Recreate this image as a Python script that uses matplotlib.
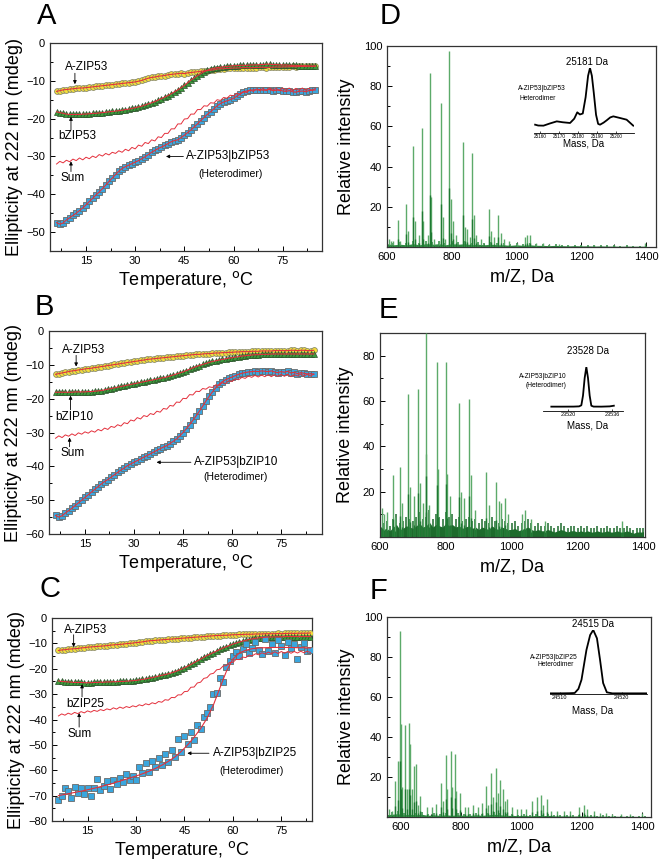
import numpy as np
import matplotlib
matplotlib.use("Agg")
import matplotlib.pyplot as plt
from matplotlib.ticker import MultipleLocator

plt.rcParams['font.family'] = ['Liberation Sans', 'DejaVu Sans']

W, H = 660, 863

# ---------------- CD melting data (mdeg) ----------------
temps = np.arange(6, 86)      # A, B
temps_c = np.arange(6, 85)    # C
fit_t_c = np.arange(6, 86, 2)

azip_a = [-12.8, -12.6, -12.4, -12.3, -12.2, -12.1, -12.0, -11.9, -11.9, -11.8,
          -11.7, -11.6, -11.5, -11.4, -11.3, -11.2, -11.1, -11.0, -10.9, -10.8,
          -10.7, -10.6, -10.5, -10.4, -10.3, -10.1, -9.9, -9.6, -9.3, -9.1,
          -9.0, -8.8, -8.7, -8.6, -8.4, -8.3, -8.2, -8.1, -8.0, -8.1,
          -7.9, -7.8, -7.7, -7.6, -7.5, -7.4, -7.3, -7.2, -7.1, -6.9,
          -6.8, -6.8, -6.7, -6.7, -6.6, -6.6, -6.6, -6.5, -6.5, -6.6,
          -6.5, -6.5, -6.4, -6.4, -6.5, -6.4, -6.4, -6.3, -6.4, -6.3,
          -6.3, -6.3, -6.2, -6.3, -6.2, -6.2, -6.2, -6.1, -6.2, -6.1]
bzip_a = [-18.2, -18.4, -18.6, -18.8, -18.9, -18.9, -18.9, -18.9, -18.8, -18.8,
          -18.7, -18.6, -18.6, -18.5, -18.4, -18.3, -18.2, -18.1, -18.0, -17.9,
          -17.8, -17.6, -17.5, -17.3, -17.1, -16.9, -16.7, -16.4, -16.1, -15.8,
          -15.5, -15.1, -14.7, -14.3, -13.9, -13.4, -12.9, -12.4, -11.8, -11.2,
          -10.5, -9.8, -9.2, -8.6, -8.1, -7.6, -7.2, -6.9, -6.7, -6.5,
          -6.4, -6.3, -6.2, -6.1, -6.0, -6.0, -5.9, -5.9, -5.9, -5.8,
          -5.8, -5.8, -5.7, -5.7, -5.6, -5.6, -5.7, -5.7, -5.8, -5.8,
          -5.8, -5.9, -5.9, -5.9, -6.0, -6.0, -6.0, -6.1, -6.1, -6.1]
sum_a = [-32.0, -31.3, -31.7, -31.0, -31.4, -30.7, -31.1, -30.4, -30.9, -30.2,
         -30.6, -29.9, -30.3, -29.5, -29.9, -29.2, -29.6, -28.9, -29.2, -28.5,
         -28.9, -28.1, -28.5, -27.6, -28.0, -27.0, -27.3, -26.3, -26.6, -25.6,
         -25.9, -24.8, -25.0, -23.9, -23.9, -22.7, -22.7, -21.4, -21.4, -20.1,
         -20.0, -18.8, -18.8, -17.6, -17.6, -16.6, -16.7, -15.8, -15.9, -15.0,
         -15.2, -14.4, -14.6, -13.8, -14.0, -13.3, -13.5, -12.8, -13.1, -12.4,
         -12.8, -12.1, -12.6, -12.0, -12.6, -11.9, -12.5, -12.0, -12.6, -11.9,
         -12.5, -11.9, -12.6, -12.0, -12.5, -11.9, -12.5, -12.0, -12.5, -12.0]
het_a = [-47.5, -47.9, -47.6, -46.8, -46.2, -45.6, -45.0, -44.3, -43.6, -42.8,
         -41.9, -41.1, -40.2, -39.4, -38.5, -37.6, -36.6, -35.7, -34.8, -33.9,
         -33.2, -32.7, -32.3, -31.9, -31.5, -31.1, -30.6, -30.1, -29.5, -28.9,
         -28.4, -27.9, -27.5, -27.1, -26.6, -26.1, -25.8, -25.6, -25.0, -24.4,
         -23.7, -23.0, -22.2, -21.4, -20.5, -19.7, -18.9, -18.2, -17.4, -16.6,
         -16.0, -15.6, -15.3, -15.0, -14.6, -14.1, -13.5, -13.0, -12.7, -12.5,
         -12.4, -12.4, -12.3, -12.5, -12.4, -12.3, -12.6, -12.5, -12.4, -12.7,
         -12.8, -12.6, -12.9, -13.0, -12.8, -12.7, -12.9, -12.6, -12.5, -12.4]

azip_b = [-12.8, -12.6, -12.4, -12.2, -12.0, -11.8, -11.7, -11.5, -11.4, -11.2,
          -11.1, -11.0, -10.8, -10.7, -10.5, -10.4, -10.2, -10.1, -9.9, -9.8,
          -9.6, -9.5, -9.3, -9.2, -9.0, -8.9, -8.7, -8.6, -8.4, -8.3,
          -8.2, -8.1, -8.0, -7.9, -7.8, -7.7, -7.6, -7.5, -7.4, -7.3,
          -7.2, -7.1, -7.0, -6.9, -6.9, -6.8, -6.7, -6.7, -6.6, -6.5,
          -6.5, -6.4, -6.4, -6.3, -6.3, -6.2, -6.2, -6.1, -6.1, -6.1,
          -6.0, -6.0, -6.0, -5.9, -5.9, -5.9, -5.9, -5.8, -5.8, -5.8,
          -5.8, -5.8, -5.7, -5.7, -5.8, -5.7, -5.7, -5.8, -5.8, -5.7]
bzip_b = [-18.1, -18.1, -18.1, -18.1, -18.1, -18.1, -18.0, -18.0, -18.0, -18.0,
          -17.9, -17.9, -17.8, -17.7, -17.6, -17.4, -17.2, -17.0, -16.8, -16.6,
          -16.4, -16.2, -16.0, -15.8, -15.6, -15.4, -15.2, -15.0, -14.8, -14.6,
          -14.4, -14.2, -14.0, -13.8, -13.6, -13.3, -13.0, -12.7, -12.4, -12.1,
          -11.7, -11.3, -10.9, -10.5, -10.2, -9.9, -9.6, -9.3, -9.0, -8.8,
          -8.6, -8.4, -8.2, -8.0, -7.9, -7.7, -7.6, -7.4, -7.3, -7.2,
          -7.1, -7.0, -7.0, -6.9, -6.9, -6.9, -6.8, -6.8, -6.8, -6.8,
          -6.8, -6.8, -6.8, -6.8, -6.8, -6.8, -6.8, -6.8, -6.8, -6.8]
sum_b = [-31.7, -31.0, -31.5, -30.7, -31.1, -30.4, -30.9, -30.1, -30.5, -29.8,
         -30.2, -29.5, -29.9, -29.1, -29.5, -28.7, -29.1, -28.2, -28.5, -27.7,
         -28.1, -27.1, -27.4, -26.3, -26.6, -25.6, -26.0, -25.0, -25.3, -24.4,
         -24.7, -23.7, -24.0, -22.9, -23.1, -22.0, -22.2, -21.0, -21.1, -19.9,
         -20.0, -18.8, -18.9, -17.8, -17.9, -17.0, -17.2, -16.5, -16.7, -15.9,
         -16.1, -15.3, -15.5, -14.7, -14.9, -14.1, -14.4, -13.7, -14.0, -13.3,
         -13.7, -13.1, -13.6, -13.0, -13.5, -12.9, -13.5, -12.9, -13.4, -12.8,
         -13.4, -12.8, -13.5, -12.9, -13.3, -12.7, -13.3, -12.8, -13.3, -12.7]
het_b = [-54.5, -55.0, -54.6, -53.8, -53.1, -52.4, -51.6, -50.8, -50.0, -49.2,
         -48.4, -47.6, -46.8, -46.0, -45.2, -44.5, -43.9, -43.2, -42.5, -41.8,
         -41.1, -40.5, -39.8, -39.3, -38.8, -38.3, -37.8, -37.3, -36.8, -36.3,
         -35.8, -35.3, -34.8, -34.3, -33.9, -33.3, -32.6, -31.9, -31.0, -30.0,
         -28.9, -27.7, -26.4, -25.1, -23.7, -22.2, -20.7, -19.3, -18.0, -16.8,
         -15.8, -15.0, -14.4, -14.0, -13.6, -13.2, -12.8, -12.5, -12.3, -12.1,
         -12.0, -11.9, -12.0, -11.8, -11.9, -12.0, -11.8, -12.1, -12.3, -12.0,
         -12.2, -11.9, -12.4, -12.2, -12.6, -12.3, -12.5, -12.7, -12.6, -12.8]

azip_c = [-12.8, -12.6, -12.5, -12.3, -12.2, -12.1, -12.0, -11.8, -11.7, -11.5,
          -11.4, -11.3, -11.2, -11.1, -11.0, -10.9, -10.7, -10.6, -10.5, -10.4,
          -10.3, -10.1, -10.0, -9.9, -9.7, -9.6, -9.4, -9.2, -9.0, -8.9,
          -8.8, -8.7, -8.6, -8.5, -8.4, -8.3, -8.2, -8.1, -8.0, -7.9,
          -7.8, -7.7, -7.6, -7.5, -7.4, -7.3, -7.2, -7.1, -7.0, -6.9,
          -6.9, -6.8, -6.8, -6.7, -6.6, -6.6, -6.5, -6.5, -6.4, -6.4,
          -6.4, -6.3, -6.3, -6.3, -6.2, -6.2, -6.2, -6.2, -6.1, -6.2,
          -6.1, -6.1, -6.0, -6.1, -6.0, -6.0, -6.0, -6.0, -5.9]
bzip_c = [-24.8, -25.0, -25.1, -25.2, -25.3, -25.4, -25.4, -25.4, -25.5, -25.5,
          -25.5, -25.4, -25.4, -25.3, -25.3, -25.2, -25.2, -25.1, -25.1, -25.0,
          -25.0, -24.9, -24.8, -24.7, -24.6, -24.4, -24.2, -24.0, -23.7, -23.5,
          -23.2, -22.9, -22.6, -22.3, -22.0, -21.6, -21.2, -20.7, -20.2, -19.6,
          -19.0, -18.3, -17.6, -16.9, -16.2, -15.5, -14.8, -14.2, -13.6, -13.0,
          -12.4, -11.8, -11.3, -10.8, -10.3, -9.9, -9.5, -9.1, -8.8, -8.5,
          -8.2, -8.0, -7.8, -7.7, -7.6, -7.5, -7.5, -7.4, -7.4, -7.4,
          -7.3, -7.3, -7.3, -7.3, -7.3, -7.3, -7.3, -7.3, -7.3]
sum_c = [-38.6, -37.8, -38.3, -37.5, -38.0, -37.2, -37.7, -36.9, -37.4, -36.6,
         -37.1, -36.4, -36.8, -36.1, -36.5, -35.8, -36.2, -35.4, -35.9, -35.1,
         -35.6, -34.9, -35.3, -34.6, -35.0, -34.2, -34.6, -33.8, -34.2, -33.4,
         -33.8, -32.9, -33.2, -32.2, -32.4, -31.3, -31.4, -30.3, -30.3, -29.0,
         -28.9, -27.3, -27.2, -25.6, -25.3, -23.8, -23.5, -22.1, -21.8, -20.4,
         -20.2, -18.9, -18.8, -17.5, -17.5, -16.3, -16.4, -15.4, -15.6, -14.6,
         -14.9, -14.1, -14.5, -13.7, -14.2, -13.4, -14.1, -13.3, -14.0, -13.2,
         -13.9, -13.2, -13.9, -13.2, -13.8, -13.1, -13.7, -13.1, -13.6]
het_c = [-71.8, -70.1, -66.8, -68.1, -71.0, -66.5, -68.8, -66.8, -69.5, -67.0,
         -70.2, -66.8, -63.4, -67.9, -66.1, -64.2, -67.3, -63.8, -65.4, -62.9,
         -64.8, -61.5, -63.9, -62.1, -64.0, -58.6, -61.2, -57.0, -60.8, -56.3,
         -58.9, -55.1, -57.8, -53.4, -56.6, -51.9, -54.9, -47.6, -52.8, -46.5,
         -49.8, -45.1, -48.2, -42.0, -43.7, -38.9, -37.3, -34.9, -30.0, -29.4,
         -23.8, -25.1, -19.2, -17.0, -15.1, -13.4, -14.9, -12.2, -10.4, -13.8,
         -11.9, -9.6, -12.7, -14.1, -8.2, -12.9, -10.3, -13.6, -8.7, -11.2,
         -14.6, -9.3, -12.0, -10.1, -16.0, -11.4, -9.9, -13.2, -12.6]
fit_c = [-70.0, -69.5, -69.0, -68.5, -68.0, -67.4, -66.8, -66.1, -65.5, -64.7,
         -63.9, -63.1, -62.3, -61.4, -60.4, -59.3, -58.0, -56.5, -54.8, -52.6,
         -50.0, -47.0, -43.6, -39.5, -34.2, -27.5, -21.0, -16.2, -13.8, -12.7,
         -12.1, -11.8, -11.7, -11.6, -11.6, -11.6, -11.6, -11.7, -11.7, -11.8]

# ---------------- mass spectra ----------------
mz_d = [605, 612, 620, 635, 640, 659, 664, 680, 685, 700, 707, 712, 725, 732, 737,
        745, 760, 767, 772, 780, 791, 796, 805, 812, 833, 840, 846, 855, 861, 869,
        875, 890, 914, 922, 930, 944, 952, 962, 975, 1000, 1025, 1033, 1040, 1060,
        1080, 1100, 1130, 1160, 1200, 1240, 1300, 1395]
int_d = [4, 3, 3, 13.4, 3, 21.4, 8, 50, 13, 6, 59, 13, 6, 86.7, 25,
         4, 3, 71.8, 15, 4, 97.5, 24, 13, 6, 52.4, 10, 9, 5, 47, 15.7,
         6, 4, 19, 8, 5, 16, 7, 4, 3, 2, 5, 6, 6, 2,
         2, 1.5, 1.5, 1, 1, 1, 1, 2]
base_mz_d = np.arange(600, 1401, 20)
base_d = [3, 2, 2.5, 2, 3, 2, 3, 2.5, 3, 2,
          3, 2.5, 3, 2, 2.5, 2, 2.5, 2, 2, 1.5,
          2, 1.5, 2, 1.5, 1.5, 1.2, 1.5, 1.2, 1, 1.2,
          1, 1, 0.8, 1, 0.8, 0.8, 0.7, 0.8, 0.7, 0.7, 0.7]

mz_e = [605, 612, 620, 639, 646, 662, 668, 686, 692, 704, 714, 720, 730, 739, 741,
        750, 772, 776, 799, 803, 812, 841, 847, 855, 869, 877, 890, 922, 930, 953,
        960, 968, 980, 990, 1030, 1040, 1060, 1100, 1335]
int_e = [13, 10, 11, 27.2, 9, 30.8, 15, 62.9, 22, 18, 65.3, 24, 15, 90, 36.8,
         14, 77, 30, 77.4, 28, 18, 59.1, 20, 17, 60.7, 27.5, 12, 28.6, 14, 24.3,
         16, 15, 17, 10, 10, 12, 8, 7, 7]
base_mz_e = np.arange(600, 1401, 10)
base_e = [9, 6, 7, 5, 8, 10, 6, 7, 9, 8,
          7, 9, 11, 8, 9, 12, 8, 10, 9, 8,
          11, 9, 10, 8, 9, 7, 8, 9, 7, 8,
          6, 8, 7, 6, 9, 7, 6, 8, 7, 6,
          6, 7, 5, 6, 7, 8, 6, 5, 6, 5,
          5, 6, 5, 4, 5, 6, 5, 4, 5, 5,
          4, 5, 4, 5, 4, 4, 5, 4, 4, 5,
          4, 4, 5, 4, 4, 5, 4, 3, 4, 4, 4]

mz_f = [560, 570, 582, 593, 599, 601, 606, 614, 620, 628, 632, 638, 643, 651, 658,
        666, 687, 703, 717, 734, 740, 749, 753, 766, 770, 781, 785, 797, 812, 825,
        840, 855, 869, 884, 890, 899, 905, 916, 922, 931, 939, 946, 954, 970, 985,
        1000, 1015, 1035, 1052, 1067, 1072, 1086, 1100, 1120, 1140, 1160, 1191, 1207,
        1218, 1240, 1260, 1280, 1300, 1330, 1360, 1400]
int_f = [4, 3, 17.9, 27.9, 93, 46.7, 15, 45.9, 14, 47, 36.7, 14, 25.7, 26.5, 6,
         10.5, 5, 5, 6.7, 17.2, 8, 30.8, 14, 32.8, 15, 31.7, 13, 12.2, 5, 5,
         5.9, 5, 7, 15.5, 6, 22.2, 10, 24.7, 12, 18.3, 13.8, 8, 8.8, 5, 4,
         4, 4, 8, 10, 11, 6, 9, 3, 3, 3, 3, 5, 6,
         4, 3, 2, 2, 1.5, 1.5, 1.5, 2]
base_mz_f = np.arange(550, 1421, 20)
base_f = [2, 2.5, 3, 2, 2.5, 2, 2.5, 1.5, 2, 1.5,
          2, 1.5, 2, 1.5, 1.5, 2, 1.5, 2, 2.5, 2,
          1.5, 1.5, 1.2, 1.5, 1, 1.5, 1.2, 1.5, 1, 1,
          1, 0.8, 1, 0.8, 0.8, 0.7, 0.8, 0.7, 0.7, 0.6,
          0.6, 0.6, 0.5, 0.5]

# deconvoluted insets
mass_d = [25157.4, 25159, 25161.8, 25165, 25168.8, 25172, 25175.8, 25178, 25179.6,
          25181, 25182.5, 25184, 25185.3, 25186.3, 25187.3, 25188.3, 25189.5, 25190.6,
          25191.6, 25193.5, 25195.1, 25197, 25198.6, 25202.1, 25205.6, 25209.1]
dec_d = [12.8, 11.5, 11.3, 14.5, 17.9, 16.5, 15.4, 22, 31.8,
         28.5, 30, 55, 88, 100, 88, 62, 28, 14,
         12.8, 16, 19.5, 24, 25.6, 23.1, 20.5, 11.3]
mass_e = [23514, 23518, 23522, 23524, 23524.8, 23525.4, 23526, 23526.6, 23527.2,
          23527.8, 23528.4, 23529.2, 23532, 23535, 23536.5]
dec_e = [9.9, 9.9, 10, 10.5, 13, 35, 75, 100, 75, 35, 12, 10, 9.9, 10.5, 12]
mass_f = [24508, 24510, 24511.5, 24512.4, 24513, 24513.5, 24514.3, 24514.9, 24515.4,
          24516, 24516.5, 24517.0, 24517.6, 24518.5, 24520, 24524]
dec_f = [1.0, 1.0, 1.2, 1.6, 8, 22.3, 68.9, 92.2, 100, 87, 53.4, 17.1, 2.6, 1.0, 1.0, 1.0]


def box(l, t, r, b):
    return [l / W, 1 - b / H, (r - l) / W, (b - t) / H]


def ftext(x, y, s, **kw):
    fig.text(x / W, 1 - y / H, s, **kw)


def style(ax):
    for sp in ax.spines.values():
        sp.set_linewidth(0.9)
        sp.set_color('#333333')
    ax.tick_params(which='both', direction='in', top=False, right=False,
                   labelsize=8, width=0.7)
    ax.tick_params(which='major', length=3.5)
    ax.tick_params(which='minor', length=2)


def arrow(ax, tail, tip):
    ax.annotate('', xy=tip, xytext=tail,
                arrowprops=dict(arrowstyle='-|>', color='k', lw=0.6,
                                mutation_scale=5, shrinkA=0, shrinkB=0))


def cd_panel(ax, t, azip, bzip, total, het, fit_t, fit_y, xlim, ylim, ann, sq=4.3):
    ax.plot(t, azip, 'o', ms=4.2, mfc='#f4e03a', mec='#8a8a6a', mew=0.6, zorder=3)
    ax.plot(t, bzip, '^', ms=4.6, mfc='#3c9c3c', mec='#2b4f2b', mew=0.5, zorder=3)
    ax.plot(t, het, 's', ms=sq, mfc='#3aa6de', mec='#6a6a6a', mew=0.6, zorder=3)
    red = '#e4303c'
    ax.plot(t, azip, color=red, lw=0.8, zorder=4)
    ax.plot(t, bzip, color=red, lw=0.8, zorder=4)
    ax.plot(fit_t, fit_y, color=red, lw=0.8, zorder=4)
    ax.plot(t, total, color=red, lw=0.7, zorder=4)
    ax.set_xlim(*xlim)
    ax.set_ylim(*ylim)
    ax.set_xticks([15, 30, 45, 60, 75])
    ax.xaxis.set_minor_locator(MultipleLocator(7.5))
    ax.yaxis.set_major_locator(MultipleLocator(10))
    ax.yaxis.set_minor_locator(MultipleLocator(5))
    style(ax)
    ax.set_xlabel('Temperature, $^{\\rm o}$C', fontsize=13, labelpad=2)
    ax.set_ylabel('Ellipticity at 222 nm (mdeg)', fontsize=13, labelpad=2)
    for name, txy, tail, tip in ann['short']:
        ax.text(*txy, name, ha='center', va='center', fontsize=8.5, zorder=6)
        arrow(ax, tail, tip)
    name, txy, tail, tip, hxy = ann['het']
    ax.text(*txy, name, ha='left', va='center', fontsize=8.5, zorder=6)
    arrow(ax, tail, tip)
    ax.text(*hxy, '(Heterodimer)', ha='center', va='center', fontsize=7.5, zorder=6)


def ms_panel(ax, mz, inten, bmz, base, xlim, ylim, yticks, base_col):
    base = np.array(base)
    ax.fill_between(bmz, 0, base * 0.55, color=base_col, lw=0, zorder=2)
    ax.vlines(bmz, 0, base, color=base_col, lw=1.1, zorder=2)
    ax.vlines(mz, 0, inten, color='#5caa6a', lw=1.0, zorder=3)
    ax.vlines(mz, 0, np.array(inten) * 0.3, color='#1f7a33', lw=1.0, zorder=3)
    ax.set_xlim(*xlim)
    ax.set_ylim(*ylim)
    ax.set_xticks([600, 800, 1000, 1200, 1400])
    ax.xaxis.set_minor_locator(MultipleLocator(100))
    ax.set_yticks(yticks)
    ax.yaxis.set_minor_locator(MultipleLocator(10))
    style(ax)
    ax.set_xlabel('m/Z, Da', fontsize=13, labelpad=5)
    ax.set_ylabel('Relative intensity', fontsize=13, labelpad=6)


def inset(rect, mass, dec, xlim, ticks, fs_tick):
    ax = fig.add_axes(rect)
    ax.patch.set_alpha(0)
    ax.plot(mass, dec, color='k', lw=1.3)
    ax.set_xlim(*xlim)
    ax.set_ylim(0, 100)
    for s in ['left', 'right', 'top']:
        ax.spines[s].set_visible(False)
    ax.spines['bottom'].set_linewidth(0.6)
    ax.set_yticks([])
    ax.set_xticks(ticks)
    ax.tick_params(axis='x', direction='in', length=1.5, width=0.5,
                   labelsize=fs_tick, pad=1)
    return ax


fig = plt.figure(figsize=(W / 100, H / 100), dpi=100)

# ---- A ----
axA = fig.add_axes(box(50, 43, 322, 251))
cd_panel(axA, temps, azip_a, bzip_a, sum_a, het_a, temps, het_a, (4, 87), (-55, 0),
         {'short': [('A-ZIP53', (15.2, -6.4), (11.6, -8.0), (11.6, -10.9)),
                    ('bZIP53', (12.2, -24.6), (10.4, -23.0), (10.4, -19.5)),
                    ('Sum', (10.9, -35.6), (10.4, -34.0), (10.4, -31.3))],
          'het': ('A-ZIP53|bZIP53', (45.4, -30.0), (44.7, -30.0), (39.4, -30.0), (59.0, -34.7))})

# ---- B ----
axB = fig.add_axes(box(49, 331, 322, 534))
cd_panel(axB, temps, azip_b, bzip_b, sum_b, het_b, temps, het_b, (4, 87.5), (-60, 0),
         {'short': [('A-ZIP53', (14.7, -5.7), (12.3, -7.2), (12.3, -10.5)),
                    ('bZIP10', (11.9, -25.3), (10.6, -23.3), (10.6, -19.1)),
                    ('Sum', (11.1, -36.1), (10.3, -34.2), (10.3, -31.5))],
          'het': ('A-ZIP53|bZIP10', (48.4, -38.8), (47.4, -38.8), (36.9, -38.8), (61.1, -43.2))})

# ---- C ----
axC = fig.add_axes(box(52, 618, 312, 821))
cd_panel(axC, temps_c, azip_c, bzip_c, sum_c, het_c, fit_t_c, fit_c, (4, 84.5), (-80, 0),
         {'short': [('A-ZIP53', (14.5, -4.6), (10.7, -6.6), (10.7, -11.5)),
                    ('bZIP25', (14.2, -33.7), (13.3, -31.1), (13.3, -26.1)),
                    ('Sum', (12.7, -45.6), (12.4, -43.0), (12.4, -37.4))],
          'het': ('A-ZIP53|bZIP25', (53.8, -53.3), (52.6, -53.3), (45.9, -53.3), (65.9, -60.2))},
         sq=4.9)

# ---- D ----
axD = fig.add_axes(box(387, 46, 656, 247))
ms_panel(axD, mz_d, int_d, base_mz_d, base_d, (600, 1430), (0, 100),
         [20, 40, 60, 80, 100], '#2f8a42')
inset(box(534, 68, 634, 133), mass_d, dec_d, (25156.8, 25209.5),
      [25160, 25170, 25180, 25190, 25200], 3.3)
ftext(587, 62, '25181 Da', ha='center', va='center', fontsize=7)
ftext(518, 88, 'A-ZIP53|bZIP53', ha='left', va='center', fontsize=4.8)
ftext(520, 98, 'Heterodimer', ha='left', va='center', fontsize=4.8)
ftext(584, 144, 'Mass, Da', ha='center', va='center', fontsize=7)

# ---- E ----
axE = fig.add_axes(box(380, 333, 645, 537))
ms_panel(axE, mz_e, int_e, base_mz_e, base_e, (600, 1405), (0, 90),
         [20, 40, 60, 80], '#1d6b2c')
inset(box(543, 367, 623, 411), mass_e, dec_e, (23511, 23539.8), [23520, 23536], 4)
ftext(588, 351, '23528 Da', ha='center', va='center', fontsize=7)
ftext(567, 377, 'A-ZIP53|bZIP10', ha='right', va='center', fontsize=4.8)
ftext(567, 385, '(Heterodimer)', ha='right', va='center', fontsize=4.8)
ftext(588, 425, 'Mass, Da', ha='center', va='center', fontsize=7)

# ---- F ----
axF = fig.add_axes(box(387, 617, 651, 817))
ms_panel(axF, mz_f, int_f, base_mz_f, base_f, (555, 1430), (0, 100),
         [20, 40, 60, 80, 100], '#2f8a42')
inset(box(550, 630, 647, 694), mass_f, dec_f, (24508.4, 24524.1), [24510, 24520], 4)
ftext(593, 624, '24515 Da', ha='center', va='center', fontsize=7)
ftext(554, 657, 'A-ZIP53|bZIP25', ha='center', va='center', fontsize=4.8)
ftext(556, 664, 'Heterodimer', ha='center', va='center', fontsize=4.8)
ftext(593, 710, 'Mass, Da', ha='center', va='center', fontsize=7)

# panel letters
for letter, x, y in [('A', 47, 16), ('B', 44, 307), ('C', 50, 589),
                     ('D', 390, 16), ('E', 388, 310), ('F', 378, 591)]:
    ftext(x, y, letter, ha='center', va='center', fontsize=21)

fig.savefig('out.png', dpi=100)
